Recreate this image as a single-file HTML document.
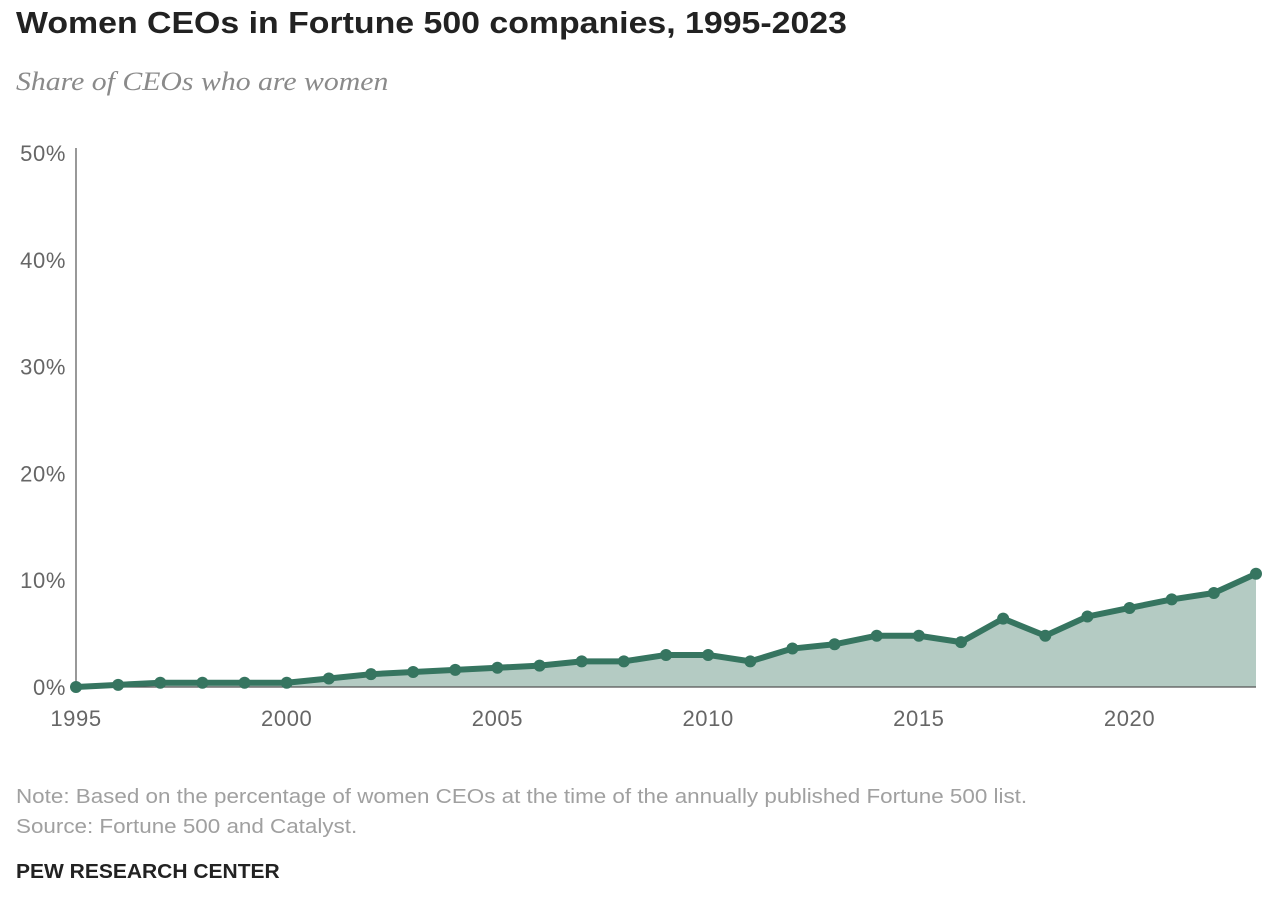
<!DOCTYPE html>
<html><head><meta charset="utf-8"><style>
body{margin:0;background:#fff;width:1286px;height:898px;overflow:hidden;font-family:"Liberation Sans",sans-serif}
div{white-space:nowrap;transform-origin:0 0}
.t{position:absolute;left:16px;top:5px;font-size:31px;font-weight:bold;color:#222;transform:scaleX(1.092)}
.s{position:absolute;left:16px;top:67px;font-family:"Liberation Serif",serif;font-style:italic;font-size:26px;color:#8a8a8a;transform:scaleX(1.145)}
.n{position:absolute;left:16px;font-size:20px;color:#a0a0a0;transform:scaleX(1.12)}
.p{position:absolute;left:16px;top:861px;font-size:20px;font-weight:bold;color:#222;transform:scaleX(1.05)}
</style></head><body>
<div class="t">Women CEOs in Fortune 500 companies, 1995-2023</div>
<div class="s">Share of CEOs who are women</div>
<svg id="c" width="1286" height="898" style="position:absolute;left:0;top:0"></svg>
<div class="n" style="top:786px">Note: Based on the percentage of women CEOs at the time of the annually published Fortune 500 list.</div>
<div class="n" style="top:816px">Source: Fortune 500 and Catalyst.</div>
<div class="p">PEW RESEARCH CENTER</div>
<script>
const years=[1995,1996,1997,1998,1999,2000,2001,2002,2003,2004,2005,2006,2007,2008,2009,2010,2011,2012,2013,2014,2015,2016,2017,2018,2019,2020,2021,2022,2023];
const values=[0,0.2,0.4,0.4,0.4,0.4,0.8,1.2,1.4,1.6,1.8,2.0,2.4,2.4,3.0,3.0,2.4,3.6,4.0,4.8,4.8,4.2,6.4,4.8,6.6,7.4,8.2,8.8,10.6];
const yTicks=[0,10,20,30,40,50];
const xTicks=[1995,2000,2005,2010,2015,2020];
const svg=document.getElementById('c');const NS='http://www.w3.org/2000/svg';
const x=v=>76+(v-1995)*(1256-76)/28;const y=v=>687-v*(687-153)/50;
function mk(t,a){const e=document.createElementNS(NS,t);for(const k in a)e.setAttribute(k,a[k]);svg.appendChild(e);return e;}
yTicks.forEach(v=>{const e=mk('text',{x:66,y:y(v)+8,'text-anchor':'end','font-size':22,'letter-spacing':0.6,fill:'#666','font-family':'Liberation Sans'});e.textContent=v+'%';

});
xTicks.forEach(v=>{const e=mk('text',{x:x(v),y:726,'text-anchor':'middle','font-size':22,'letter-spacing':0.6,fill:'#666','font-family':'Liberation Sans'});e.textContent=v;

});
let d='M'+x(years[0])+','+y(0);years.forEach((yr,i)=>d+=' L'+x(yr)+','+y(values[i]));d+=' L'+x(years[years.length-1])+','+y(0)+'Z';
const a=mk('path',{d:d,fill:'#b4cbc3'});


const ya=mk('line',{x1:76,y1:148,x2:76,y2:687,stroke:'#555','stroke-width':1.2});


const xa=mk('line',{x1:76,y1:687,x2:1256,y2:687,stroke:'#555','stroke-width':1.2});


const l=mk('polyline',{points:years.map((yr,i)=>x(yr)+','+y(values[i])).join(' '),fill:'none',stroke:'#367560','stroke-width':6,'stroke-linejoin':'round'});


years.forEach((yr,i)=>{const c=mk('circle',{cx:x(yr),cy:y(values[i]),r:6,fill:'#367560'});

});
</script>
</body></html>
